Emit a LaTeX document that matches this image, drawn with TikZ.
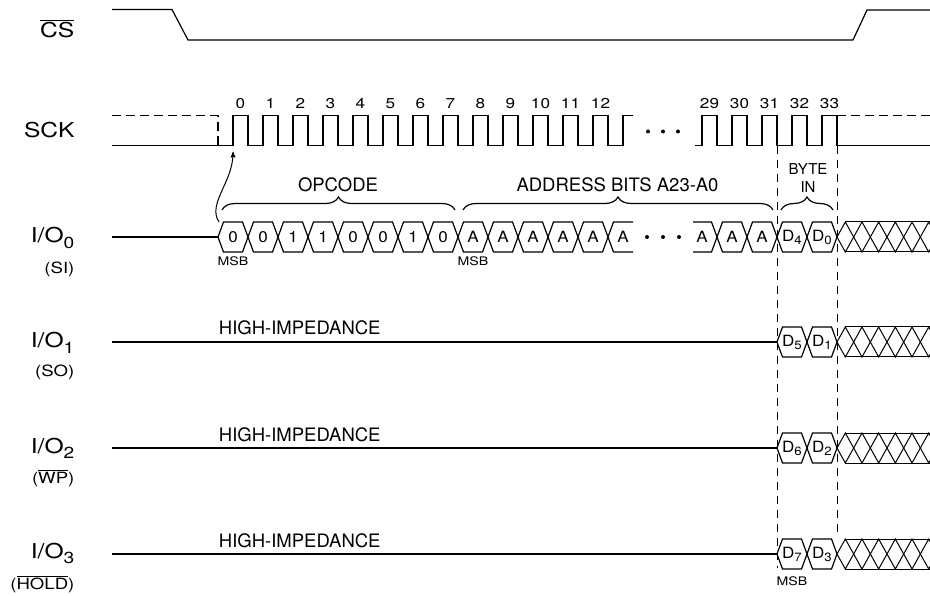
\documentclass[tikz,border=0pt]{standalone}
\usepackage{fontspec}
\setmainfont{TeX Gyre Heros}
\newfontfamily\widefont[FakeStretch=1.2]{TeX Gyre Heros}
\newfontfamily\semifont[FakeStretch=1.1]{TeX Gyre Heros}
\usepackage{tikz}
\usetikzlibrary{arrows,decorations.pathreplacing}

\newcommand{\ovl}[1]{$\overline{\mbox{#1}}$}
\newcommand{\iosub}[1]{\raisebox{-5.5pt}{\fontsize{16}{18}\selectfont #1}}
\newcommand{\dsub}[1]{\raisebox{-3pt}{\fontsize{12}{14}\selectfont #1}}

\begin{document}
\begin{tikzpicture}[x=1pt,y=-1pt,line width=1.2pt,>=stealth']
\tikzstyle{every node}=[inner sep=0pt]
\tikzstyle{sig}=[font=\widefont\fontsize{20.5}{24}\selectfont,anchor=base east]
\tikzstyle{alt}=[font=\widefont\fontsize{15.5}{18}\selectfont,anchor=base east]
\tikzstyle{num}=[font=\widefont\fontsize{14.3}{17}\selectfont,anchor=base]
\tikzstyle{bit}=[font=\semifont\fontsize{15.5}{18}\selectfont]
\tikzstyle{lbl}=[font=\fontsize{18.5}{22}\selectfont,anchor=base]
\tikzstyle{small}=[font=\fontsize{15}{18}\selectfont,anchor=base]
\tikzstyle{msb}=[font=\widefont\fontsize{11.8}{14}\selectfont,anchor=base]
\tikzstyle{guide}=[line width=1pt,dash pattern=on 8pt off 6pt]
\tikzstyle{float}=[dash pattern=on 9pt off 5pt]
\tikzstyle{brace}=[decorate,decoration={brace,amplitude=13pt}]
\tikzstyle{hatch}=[line width=1pt]

\useasboundingbox (0,0) rectangle (930,596);

% signal names
\node[sig] (cs) at (75,37.3) {\ovl{CS}};
\node[sig] (sck) at (75,138) {SCK};
\node[sig] (io0) at (75,242.7) {I/O\iosub{0}};
\node[alt] (si) at (75,274) {(SI)};
\node[sig] (io1) at (75,348) {I/O\iosub{1}};
\node[alt] (so) at (75,377) {(SO)};
\node[sig] (io2) at (75,453) {I/O\iosub{2}};
\node[alt] (wp) at (75,483) {(\ovl{WP})};
\node[sig] (io3) at (75,558) {I/O\iosub{3}};
\node[alt] (hold) at (75,589) {(\ovl{HOLD})};

% chip select
\draw (112,9.5) -- (172,9.5) -- (188,40) -- (853,40) -- (867,10) -- (930,10);

% clock
\draw[float] (112,115.7) -- (218,115.7) -- (218,145.7);
\draw (112,145.7) \foreach \k in {0,...,12} { -- (233+30*\k,145.7) -- ++(0,-30) -- ++(15,0) -- ++(0,30) }
  -- (623,145.7) -- (623,115.7) -- (633,115.7);
\draw (695,145.7) \foreach \k in {0,...,4} { -- (702+30*\k,145.7) -- ++(0,-30) -- ++(15,0) -- ++(0,30) }
  -- (930,145.7);
\draw[float] (837,115.7) -- (930,115.7);
\foreach \k in {0,...,12}
  \node[num] (n\k) at (240.5+30*\k,108.3) {\k};
\foreach \k [count=\i from 0] in {29,...,33}
  \node[num] (n\k) at (709.5+30*\i,108.3) {\k};
\foreach \x in {648,663,678}
  \fill (\x,131.5) circle (2);

% byte window
\draw[guide] (777,145.7) -- (777,568);
\draw[guide] (837,145.7) -- (837,537);

% braces
\draw[brace] (222,210) -- (455,210);
\draw[brace] (463,210) -- (773,210);
\draw[brace] (781,210) -- (833,210);
\node[lbl] (opcode) at (338,191.7) {OPCODE};
\node[lbl] (addr) at (617.5,191.7) {ADDRESS BITS A23-A0};
\node[small] (byteA) at (808,174.3) {BYTE};
\node[small] (byteB) at (808,192.7) {IN};

% first edge
\coordinate (arrS) at (219,222);
\coordinate (arrE) at (233,152);
\draw[->,line width=1pt] (arrS) .. controls (207,204) and (233,182) .. (arrE);

% I/O0 (SI)
\draw (112,237) -- (218,237);
\foreach \t [count=\k from 0] in {0,0,1,1,0,0,1,0,A,A,A,A,A} {
  \draw (218+30*\k,237) -- ++(5.5,-15) -- ++(19,0) -- ++(5.5,15) -- ++(-5.5,15) -- ++(-19,0) -- cycle;
  \node[bit] (b\k) at (233+30*\k,237) {\t};
}
\draw (633,222) -- (613.5,222) -- (608,237) -- (613.5,252) -- (633,252);
\node[bit] (b13) at (623,237) {A};
\foreach \x in {647,663,679}
  \fill (\x,237) circle (2);
\draw (693,222) -- (711.5,222) -- (717,237) -- (711.5,252) -- (693,252);
\node[bit] (c0) at (702,237) {A};
\foreach \t [count=\k from 1] in {A,A,D\dsub{4},D\dsub{0}} {
  \draw (687+30*\k,237) -- ++(5.5,-15) -- ++(19,0) -- ++(5.5,15) -- ++(-5.5,15) -- ++(-19,0) -- cycle;
  \node[bit] (c\k) at (702+30*\k,237) {\t};
}
\node[msb] (msbA) at (233,266) {MSB};
\node[msb] (msbB) at (473,266) {MSB};

% I/O1 .. I/O3
\foreach \y/\hi/\lo/\r in {342/5/1/1,448/6/2/2,554/7/3/3} {
  \draw (112,\y) -- (777,\y);
  \draw (777,\y) -- ++(5.5,-15) -- ++(19,0) -- ++(5.5,15) -- ++(-5.5,15) -- ++(-19,0) -- cycle;
  \draw (807,\y) -- ++(5.5,-15) -- ++(19,0) -- ++(5.5,15) -- ++(-5.5,15) -- ++(-19,0) -- cycle;
  \node[bit] (d\hi) at (792,\y) {D\dsub{\hi}};
  \node[bit] (d\lo) at (822,\y) {D\dsub{\lo}};
  \node[lbl,anchor=base west] (hz\r) at (218.3,\y-7) {HIGH-IMPEDANCE};
}
\node[msb] (msbC) at (792,585) {MSB};

% don't care
\foreach \y in {237,342,448,554} {
  \draw[hatch] (845.3,\y-15) -- (930,\y-15);
  \draw[hatch] (845.3,\y+15) -- (930,\y+15);
  \foreach \k in {0,...,5}
    \draw[hatch] (837+16.67*\k,\y) -- ++(8.33,-15) -- ++(8.33,15) -- ++(-8.33,15) -- cycle;
}
\end{tikzpicture}
\end{document}
